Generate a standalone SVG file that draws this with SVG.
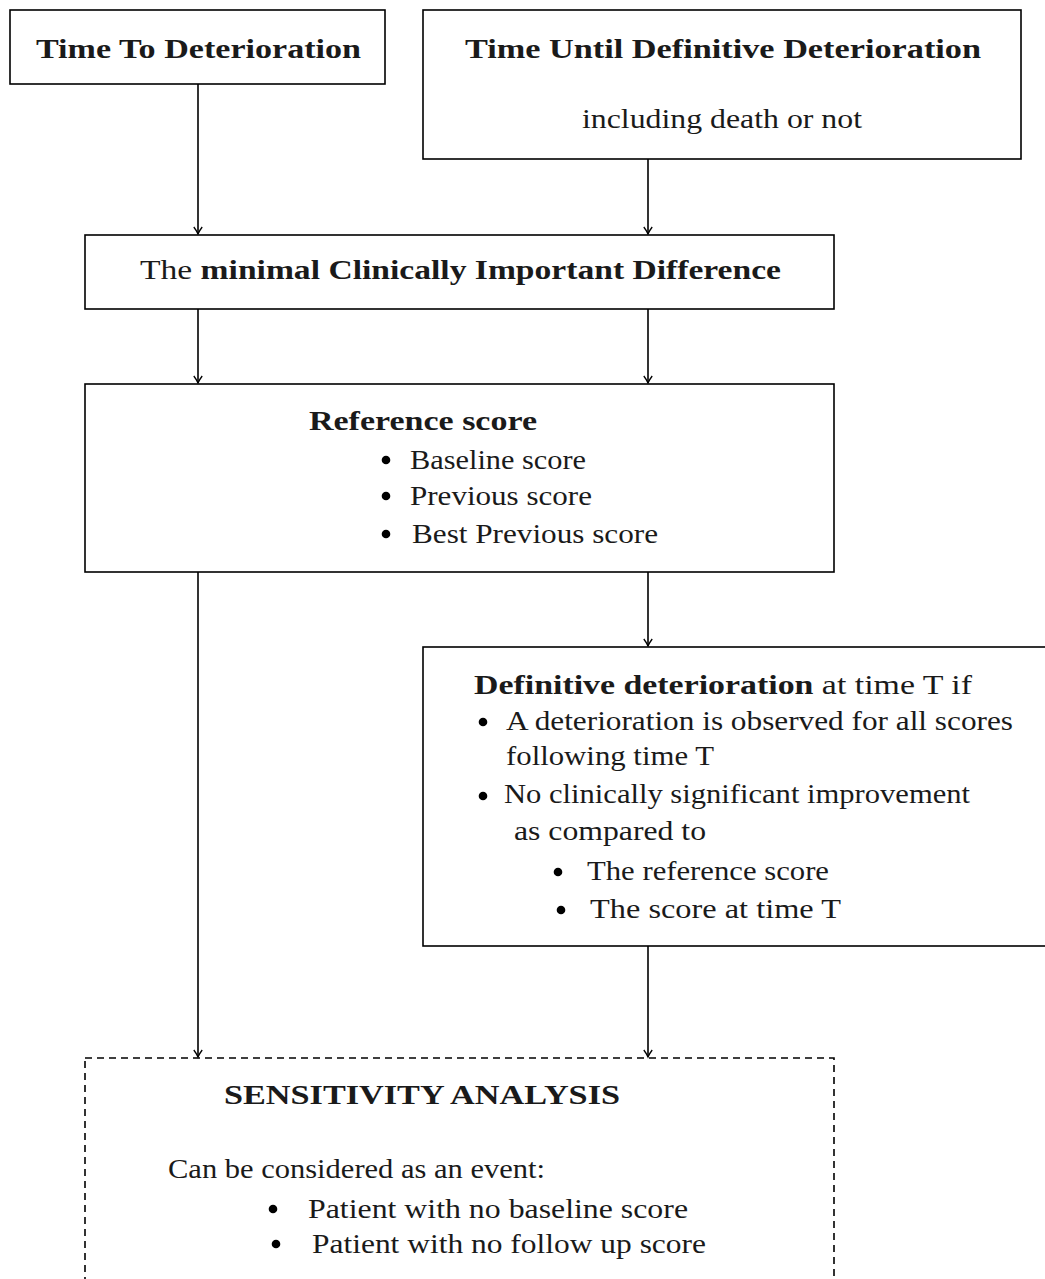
<svg xmlns="http://www.w3.org/2000/svg" width="1045" height="1279" viewBox="0 0 1045 1279">
<style>
.box{fill:#fff;stroke:#000;stroke-width:1.6}
.dash{fill:none;stroke:#000;stroke-width:1.6;stroke-dasharray:7 5}
text{font-family:"Liberation Serif","Times New Roman","DejaVu Serif",serif;font-size:28px;fill:#1a1a1a}
.b{font-weight:bold}
.con{stroke:#000;stroke-width:1.6;fill:none;marker-end:url(#ah)}
.dot{fill:#000}
</style>
<defs>
<marker id="ah" markerWidth="12" markerHeight="12" refX="9" refY="6" orient="auto" markerUnits="userSpaceOnUse" viewBox="0 0 12 12">
<path d="M2,1.8 Q6,4.8 9,6 Q6,7.2 2,10.2" fill="none" stroke="#000" stroke-width="1.3"/>
</marker>
</defs>
<rect width="1045" height="1279" fill="#fff"/>
<g id="connectors">
<line class="con" x1="198" y1="84" x2="198" y2="234"/>
<line class="con" x1="648" y1="159" x2="648" y2="234"/>
<line class="con" x1="198" y1="309" x2="198" y2="383"/>
<line class="con" x1="648" y1="309" x2="648" y2="383"/>
<line class="con" x1="198" y1="572" x2="198" y2="1057"/>
<line class="con" x1="648" y1="572" x2="648" y2="646"/>
<line class="con" x1="648" y1="946" x2="648" y2="1057"/>
</g>
<g id="ttd">
<rect class="box" x="10" y="10" width="375" height="74"/>
<text class="b" x="36" y="58" textLength="325" lengthAdjust="spacingAndGlyphs">Time To Deterioration</text>
</g>
<g id="tudd">
<rect class="box" x="423" y="10" width="598" height="149"/>
<text class="b" x="465" y="58" textLength="516" lengthAdjust="spacingAndGlyphs">Time Until Definitive Deterioration</text>
<text x="582" y="128" textLength="280" lengthAdjust="spacingAndGlyphs">including death or not</text>
</g>
<g id="mcid">
<rect class="box" x="85" y="235" width="749" height="74"/>
<text x="140" y="279" textLength="641" lengthAdjust="spacingAndGlyphs">The <tspan class="b">minimal Clinically Important Difference</tspan></text>
</g>
<g id="ref">
<rect class="box" x="85" y="384" width="749" height="188"/>
<text class="b" x="309" y="430" textLength="228" lengthAdjust="spacingAndGlyphs">Reference score</text>
<circle class="dot" cx="386" cy="460" r="4.3"/>
<text x="410" y="469" textLength="176" lengthAdjust="spacingAndGlyphs">Baseline score</text>
<circle class="dot" cx="386" cy="496" r="4.3"/>
<text x="410" y="505" textLength="182" lengthAdjust="spacingAndGlyphs">Previous score</text>
<circle class="dot" cx="386" cy="534" r="4.3"/>
<text x="412" y="543" textLength="246" lengthAdjust="spacingAndGlyphs">Best Previous score</text>
</g>
<g id="defdet">
<rect class="box" x="423" y="647" width="640" height="299"/>
<text x="474" y="694" textLength="498" lengthAdjust="spacingAndGlyphs"><tspan class="b">Definitive deterioration</tspan> at time T if</text>
<circle class="dot" cx="483" cy="722" r="4.3"/>
<text x="506" y="730" textLength="507" lengthAdjust="spacingAndGlyphs">A deterioration is observed for all scores</text>
<text x="506" y="765" textLength="208" lengthAdjust="spacingAndGlyphs">following time T</text>
<circle class="dot" cx="483" cy="796" r="4.3"/>
<text x="504" y="803" textLength="466" lengthAdjust="spacingAndGlyphs">No clinically significant improvement</text>
<text x="514" y="840" textLength="192" lengthAdjust="spacingAndGlyphs">as compared to</text>
<circle class="dot" cx="558" cy="872" r="4.3"/>
<text x="587" y="880" textLength="242" lengthAdjust="spacingAndGlyphs">The reference score</text>
<circle class="dot" cx="561" cy="910" r="4.3"/>
<text x="590" y="918" textLength="251" lengthAdjust="spacingAndGlyphs">The score at time T</text>
</g>
<g id="sens">
<rect class="dash" x="85" y="1058" width="749" height="240"/>
<text class="b" x="224" y="1104" textLength="396" lengthAdjust="spacingAndGlyphs">SENSITIVITY ANALYSIS</text>
<text x="168" y="1178" textLength="377" lengthAdjust="spacingAndGlyphs">Can be considered as an event:</text>
<circle class="dot" cx="273" cy="1209" r="4.3"/>
<text x="308" y="1218" textLength="380" lengthAdjust="spacingAndGlyphs">Patient with no baseline score</text>
<circle class="dot" cx="276" cy="1244" r="4.3"/>
<text x="312" y="1253" textLength="394" lengthAdjust="spacingAndGlyphs">Patient with no follow up score</text>
</g>
</svg>
